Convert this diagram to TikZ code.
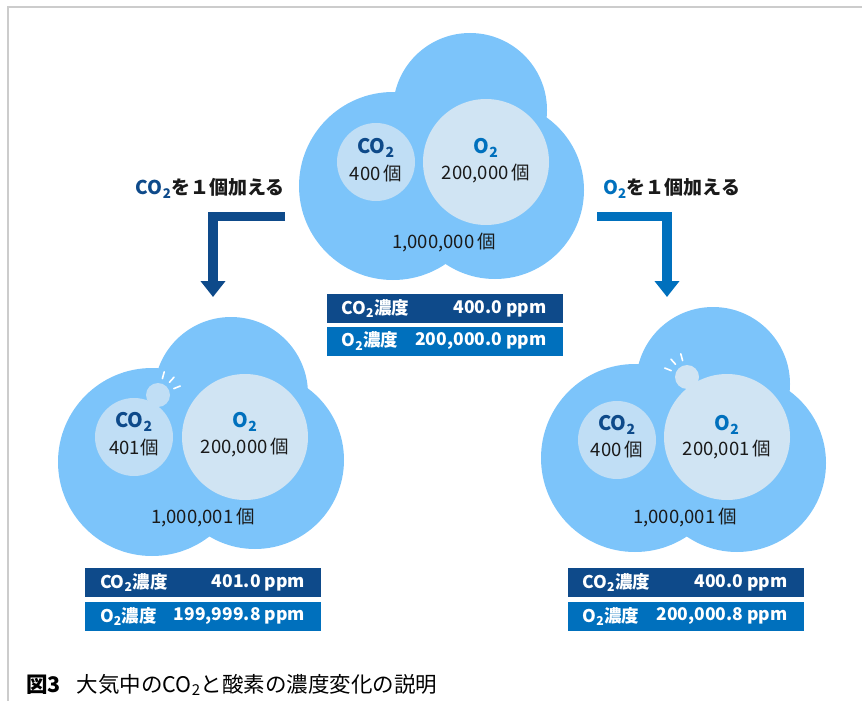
\documentclass[tikz,border=0pt]{standalone}
\usepackage{fontspec}
\setmainfont{Noto Sans CJK JP}
\usetikzlibrary{arrows.meta}

\definecolor{skyblue}{RGB}{124,196,250}
\definecolor{pale}{RGB}{208,228,243}
\definecolor{paleco}{RGB}{192,222,245}
\definecolor{navy}{RGB}{14,74,138}
\definecolor{ocean}{RGB}{0,112,189}
\definecolor{framegray}{RGB}{204,204,204}
\definecolor{ink}{RGB}{26,26,26}

\newcommand{\cotwo}{CO\textsubscript{2}}
\newcommand{\otwo}{O\textsubscript{2}}

\begin{document}
\begin{tikzpicture}[x=1pt,y=-1pt]
\tikzstyle{cloud} = [fill=skyblue]
\tikzstyle{mol} = [font=\fontsize{20}{24}\selectfont\bfseries]
\tikzstyle{count} = [font=\fontsize{18.5}{22}\selectfont,text=ink]
\tikzstyle{ppmbox} = [minimum width=236pt,minimum height=29pt,inner sep=0pt]
\tikzstyle{boxtext} = [text=white,font=\fontsize{17.5}{20}\selectfont\bfseries,inner sep=0pt]
\tikzstyle{ray} = [draw=white,line width=1.6pt,line cap=round]
\tikzstyle{turn} = [line width=9.5pt,-{Triangle[width=24pt,length=16pt]}]
\tikzstyle{lbl} = [font=\fontsize{19}{22}\selectfont\bfseries,text=ink,inner sep=0pt]

\useasboundingbox (0,0) rectangle (862,701);
\draw[framegray,line width=2pt] (7.5,701) -- (7.5,7.5) -- (862,7.5);

% top cloud
\fill[cloud] (470,110) circle[radius=77pt];
\fill[cloud] (393,186) circle[radius=94pt];
\fill[cloud] (495,190) circle[radius=89pt];
\fill[paleco] (376,162) circle[radius=39pt];
\fill[pale] (486,162) circle[radius=63pt];

% left cloud
\fill[cloud] (231,394) circle[radius=77pt];
\fill[cloud] (152,462) circle[radius=94pt];
\fill[cloud] (255,460) circle[radius=89pt];
\fill[paleco] (134,437) circle[radius=39pt];
\fill[paleco] (158,395) circle[radius=12pt];
\fill[pale] (245,437) circle[radius=63pt];
\foreach \a in {75,48,22}
  \draw[ray,shift={(158,395)}] (\a:17pt) -- (\a:24pt);

% right cloud
\fill[cloud] (713,384) circle[radius=77pt];
\fill[cloud] (635,458) circle[radius=94pt];
\fill[cloud] (737,463) circle[radius=89pt];
\fill[paleco] (617,440) circle[radius=39pt];
\fill[pale] (687,377) circle[radius=12pt];
\fill[pale] (727,437) circle[radius=63pt];
\foreach \a in {105,132,158}
  \draw[ray,shift={(687,377)}] (\a:17pt) -- (\a:24pt);

\node[mol,text=navy] (co2top) at (376,148) {\cotwo};
\node[count] (nco2top) at (376,174) {400\,個};
\node[mol,text=ocean] (o2top) at (486,148) {\otwo};
\node[count] (no2top) at (486,174) {200,000\,個};
\node[count] (alltop) at (444,243) {1,000,000\,個};

\node[mol,text=navy] (co2left) at (134,422) {\cotwo};
\node[count] (nco2left) at (134,448) {401個};
\node[mol,text=ocean] (o2left) at (245,422) {\otwo};
\node[count] (no2left) at (245,448) {200,000\,個};
\node[count] (allleft) at (203,518) {1,000,001\,個};

\node[mol,text=navy] (co2right) at (617,425) {\cotwo};
\node[count] (nco2right) at (617,450) {400\,個};
\node[mol,text=ocean] (o2right) at (727,425) {\otwo};
\node[count] (no2right) at (727,450) {200,001\,個};
\node[count] (allright) at (685,518) {1,000,001\,個};

% ppm boxes
\node[ppmbox,fill=navy] (ctop) at (444.5,308.5) {};
\node[ppmbox,fill=ocean] (otop) at (444.5,341) {};
\node[boxtext,anchor=west] (ctopa) at ([xshift=15pt]ctop.west) {\cotwo 濃度};
\node[boxtext,anchor=east] (ctopb) at ([xshift=-16pt]ctop.east) {400.0 ppm};
\node[boxtext,anchor=west] (otopa) at ([xshift=15pt]otop.west) {\otwo 濃度};
\node[boxtext,anchor=east] (otopb) at ([xshift=-16pt]otop.east) {200,000.0 ppm};

\node[ppmbox,fill=navy] (cleft) at (203,582.5) {};
\node[ppmbox,fill=ocean] (oleft) at (203,616.5) {};
\node[boxtext,anchor=west] (clefta) at ([xshift=15pt]cleft.west) {\cotwo 濃度};
\node[boxtext,anchor=east] (cleftb) at ([xshift=-16pt]cleft.east) {401.0 ppm};
\node[boxtext,anchor=west] (olefta) at ([xshift=15pt]oleft.west) {\otwo 濃度};
\node[boxtext,anchor=east] (oleftb) at ([xshift=-16pt]oleft.east) {199,999.8 ppm};

\node[ppmbox,fill=navy] (cright) at (685.5,582.5) {};
\node[ppmbox,fill=ocean] (oright) at (685.5,616.5) {};
\node[boxtext,anchor=west] (crighta) at ([xshift=15pt]cright.west) {\cotwo 濃度};
\node[boxtext,anchor=east] (crightb) at ([xshift=-16pt]cright.east) {400.0 ppm};
\node[boxtext,anchor=west] (orighta) at ([xshift=15pt]oright.west) {\otwo 濃度};
\node[boxtext,anchor=east] (orightb) at ([xshift=-16pt]oright.east) {200,000.8 ppm};

% arrows
\node[lbl,anchor=east] (addco2) at (285,188) {\textcolor{navy}{\cotwo}を１個加える};
\node[lbl,anchor=west] (addo2) at (603,188) {\textcolor{ocean}{\otwo}を１個加える};
\coordinate (lstart) at (285,216.5);
\coordinate (lend) at (213,297);
\coordinate (rstart) at (597,216.5);
\coordinate (rend) at (667,297);
\draw[turn,navy] (lstart) -| (lend);
\draw[turn,ocean] (rstart) -| (rend);

\node[anchor=west,font=\fontsize{21.5}{24}\selectfont,inner sep=0pt] (caption) at (26,685)
  {\textbf{図3}\hspace{0.75em}大気中の\cotwo と酸素の濃度変化の説明};

\end{tikzpicture}
\end{document}
